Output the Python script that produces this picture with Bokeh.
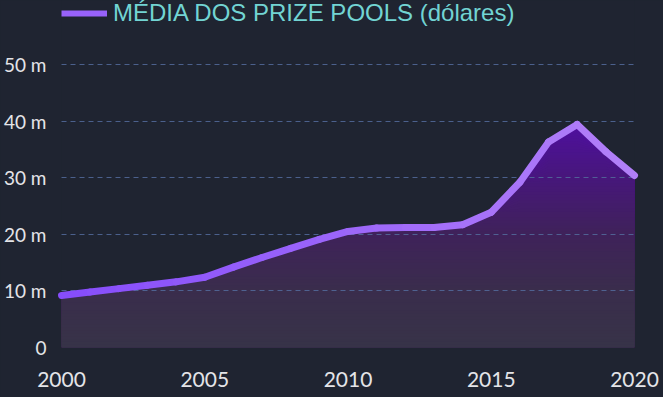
from bokeh.plotting import figure
from bokeh.models import Range1d, FixedTicker, Legend, LegendItem
from bokeh.embed import file_html
from bokeh.resources import INLINE

# ---- data (values in millions of dollars) ----
years = [2000, 2001, 2002, 2003, 2004, 2005, 2006, 2007, 2008, 2009, 2010,
         2011, 2012, 2013, 2014, 2015, 2016, 2017, 2018, 2019, 2020]
prize_pool_m = [9.2, 9.8, 10.4, 11.0, 11.6, 12.4, 14.2, 15.9, 17.5, 19.1, 20.5,
                21.1, 21.2, 21.2, 21.7, 23.9, 29.2, 36.3, 39.4, 34.6, 30.4]
y_ticks = [0, 10, 20, 30, 40, 50]
y_tick_labels = ["0", "10 m", "20 m", "30 m", "40 m", "50 m"]
x_ticks = [2000, 2005, 2010, 2015, 2020]
series_label = "MÉDIA DOS PRIZE POOLS (dólares)"

# ---- styles ----
BG = "#1f2431"
GRID = "#536b9c"
TICK_COLOR = "#e4e4e8"
LEGEND_COLOR = "#72d4d3"
LINE_LEFT = (0x86, 0x4c, 0xfb)
LINE_RIGHT = (0xb2, 0x80, 0xf8)
AREA_STOPS = [(0, (0x37, 0x33, 0x48)), (10, (0x3a, 0x2d, 0x4c)),
              (20, (0x3f, 0x22, 0x5a)), (30, (0x47, 0x17, 0x7b)),
              (40, (0x4f, 0x0f, 0xa0)), (50, (0x52, 0x0c, 0xb0))]

W, H = 663, 397
FRAME_TOP_Y50 = 64      # pixel row of the 50 m gridline
FRAME_BOTTOM = 347      # pixel row of zero
px_per_m = (FRAME_BOTTOM - FRAME_TOP_Y50) / 50.0
y_top = FRAME_BOTTOM / px_per_m   # frame runs to the top edge of the figure


def hexc(c):
    return "#%02x%02x%02x" % tuple(int(round(v)) for v in c)


def lerp(a, b, t):
    return tuple(a[i] + (b[i] - a[i]) * t for i in range(3))


def area_color(y):
    for (y0, c0), (y1, c1) in zip(AREA_STOPS[:-1], AREA_STOPS[1:]):
        if y <= y1:
            return hexc(lerp(c0, c1, (y - y0) / (y1 - y0)))
    return hexc(AREA_STOPS[-1][1])


p = figure(width=W, height=H, output_backend="svg", toolbar_location=None,
           x_range=Range1d(2000, 2020), y_range=Range1d(0, y_top),
           min_border_left=60, min_border_right=29, min_border_top=0,
           min_border_bottom=H - FRAME_BOTTOM)
p.background_fill_color = BG
p.border_fill_color = BG
p.outline_line_color = None

# gradient-filled area: stacked, from top band down, each starting at zero
ymax = max(prize_pool_m)
thresholds = [t * 0.5 for t in range(0, int(ymax * 2) + 2)]
for t_hi in reversed(thresholds[1:]):
    top = [min(v, t_hi) for v in prize_pool_m]
    p.varea(x=years, y1=[0] * len(years), y2=top,
            fill_color=area_color(t_hi - 0.25))

# line with a horizontal colour gradient
n = len(years) - 1
seg_colors = [hexc(lerp(LINE_LEFT, LINE_RIGHT, (i + 0.5) / n)) for i in range(n)]
seg = p.segment(x0=years[:-1], y0=prize_pool_m[:-1], x1=years[1:], y1=prize_pool_m[1:],
                line_color=seg_colors, line_width=7, line_cap="round")
seg.level = "annotation"

# axes
p.xaxis.ticker = FixedTicker(ticks=x_ticks)
p.yaxis.ticker = FixedTicker(ticks=y_ticks)
p.yaxis.major_label_overrides = {t: s for t, s in zip(y_ticks, y_tick_labels)}
for ax in (p.xaxis, p.yaxis):
    ax.axis_line_color = None
    ax.major_tick_line_color = None
    ax.minor_tick_line_color = None
    ax.major_label_text_color = TICK_COLOR
    ax.major_label_text_font = "Lato"
p.xaxis.major_label_text_font_size = "21px"
p.yaxis.major_label_text_font_size = "19px"
p.xaxis.major_label_standoff = 18
p.yaxis.major_label_standoff = 9

p.xgrid.visible = False
p.ygrid.grid_line_color = GRID
p.ygrid.grid_line_dash = "5 4"
p.ygrid.grid_line_width = 1
p.ygrid.grid_line_alpha = 0.85
p.ygrid.level = "guide"

# legend (inside the frame, at the very top); swatch line kept outside the ranges
swatch = p.line(x=[1990, 1991], y=[-10, -10], line_color="#9862fa", line_width=6)
legend = Legend(items=[LegendItem(label=series_label, renderers=[swatch])],
                location=(0, FRAME_BOTTOM - 27), orientation="horizontal",
                label_text_color=LEGEND_COLOR, label_text_font="Liberation Sans",
                label_text_font_size="24px", glyph_width=46, glyph_height=24,
                label_height=24, label_standoff=6, padding=0, margin=0, spacing=0,
                background_fill_alpha=0, border_line_alpha=0)
p.add_layout(legend, "center")

html = file_html(p, INLINE, "chart")
html = html.replace("</head>",
                    "<style>html,body{margin:0;padding:0;background:%s;overflow:hidden}</style></head>" % BG, 1)
open("out.html", "w").write(html)
